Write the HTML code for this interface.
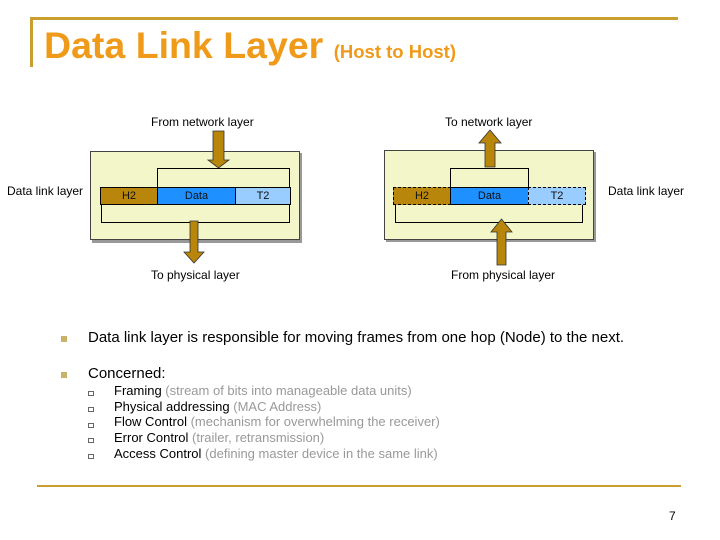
<!DOCTYPE html>
<html><head><style>
body{margin:0;width:720px;height:540px;background:#fff;position:relative;overflow:hidden;font-family:"Liberation Sans",sans-serif}
.a{position:absolute}
.t{position:absolute;font-size:12px;color:#000;white-space:nowrap}
.r{position:absolute;border:1px solid #000;box-sizing:border-box}
.b{position:absolute;color:#111;font-size:11px;text-align:center;line-height:17px;box-sizing:border-box;border:1px solid #000}
.li{position:absolute;font-size:13px;white-space:nowrap;color:#000}
.li span{color:#999}
.sq{position:absolute;width:6px;height:5px;border:1px solid #666;box-sizing:border-box}
</style></head><body>
<div class="a" style="left:30px;top:17px;width:648px;height:3px;background:#c9a030"></div>
<div class="a" style="left:30px;top:17px;width:3px;height:50px;background:#c9a030"></div>
<div class="a" style="left:44px;top:24px;font-size:37.5px;font-weight:bold;color:#f09a1a;white-space:nowrap">Data Link Layer <span style="font-size:18.5px">(Host to Host)</span></div>

<div class="t" style="left:151px;top:115px">From network layer</div>
<div class="t" style="left:445px;top:115px">To network layer</div>
<div class="t" style="left:7px;top:184px">Data link layer</div>
<div class="t" style="left:608px;top:184px">Data link layer</div>
<div class="t" style="left:151px;top:268px">To physical layer</div>
<div class="t" style="left:451px;top:268px">From physical layer</div>

<div class="a" style="left:92px;top:153px;width:210px;height:90px;background:#999"></div>
<div class="a" style="left:90px;top:151px;width:210px;height:89px;background:#f2f6c8;border:1px solid #444;box-sizing:border-box"></div>
<div class="r" style="left:157px;top:168px;width:133px;height:20px"></div>
<div class="r" style="left:101px;top:203px;width:189px;height:20px"></div>
<div class="b" style="left:100px;top:187px;width:58px;height:18px;background:#b8860b">H2</div>
<div class="b" style="left:157px;top:187px;width:79px;height:18px;background:#1e90ff">Data</div>
<div class="b" style="left:235px;top:187px;width:56px;height:18px;background:#99ccff">T2</div>

<div class="a" style="left:386px;top:152px;width:210px;height:90px;background:#999"></div>
<div class="a" style="left:384px;top:150px;width:210px;height:90px;background:#f2f6c8;border:1px solid #444;box-sizing:border-box"></div>
<div class="r" style="left:450px;top:168px;width:79px;height:20px"></div>
<div class="r" style="left:395px;top:203px;width:188px;height:20px"></div>
<div class="b" style="left:393px;top:187px;width:58px;height:18px;background:#b8860b;border-style:dashed">H2</div>
<div class="b" style="left:450px;top:187px;width:79px;height:18px;background:#1e90ff">Data</div>
<div class="b" style="left:528px;top:187px;width:58px;height:18px;background:#99ccff;border-style:dashed">T2</div>

<svg class="a" style="left:0;top:0" width="720" height="540">
<g fill="#b8860b" stroke="#333" stroke-width="0.8">
<polygon points="213,131 224,131 224,160 229,160 218.5,168 208,160 213,160"/>
<polygon points="190,221 198,221 198,252 204,252 194,263 184,252 190,252"/>
<polygon points="485,167 495,167 495,143 501,143 490,130 479,143 485,143"/>
<polygon points="497,265 506,265 506,232 512,232 501.5,219 491,232 497,232"/>
</g>
</svg>

<div class="a" style="left:61px;top:336px;width:6px;height:6px;background:#c8b26a"></div>
<div class="a" style="left:88px;top:329px;font-size:15px;white-space:nowrap">Data link layer is responsible for moving frames from one hop (Node) to the next.</div>
<div class="a" style="left:61px;top:372px;width:6px;height:6px;background:#c8b26a"></div>
<div class="a" style="left:88px;top:365px;font-size:15px">Concerned:</div>

<div class="sq" style="left:88px;top:391px"></div><div class="li" style="left:114px;top:383px">Framing <span>(stream of bits into manageable data units)</span></div>
<div class="sq" style="left:88px;top:407px"></div><div class="li" style="left:114px;top:399px">Physical addressing <span>(MAC Address)</span></div>
<div class="sq" style="left:88px;top:423px"></div><div class="li" style="left:114px;top:414px">Flow Control <span>(mechanism for overwhelming the receiver)</span></div>
<div class="sq" style="left:88px;top:438px"></div><div class="li" style="left:114px;top:430px">Error Control <span>(trailer, retransmission)</span></div>
<div class="sq" style="left:88px;top:454px"></div><div class="li" style="left:114px;top:446px">Access Control <span>(defining master device in the same link)</span></div>

<div class="a" style="left:37px;top:485px;width:644px;height:2px;background:#c9a030"></div>
<div class="a" style="left:669px;top:509px;font-size:12px">7</div>
</body></html>
